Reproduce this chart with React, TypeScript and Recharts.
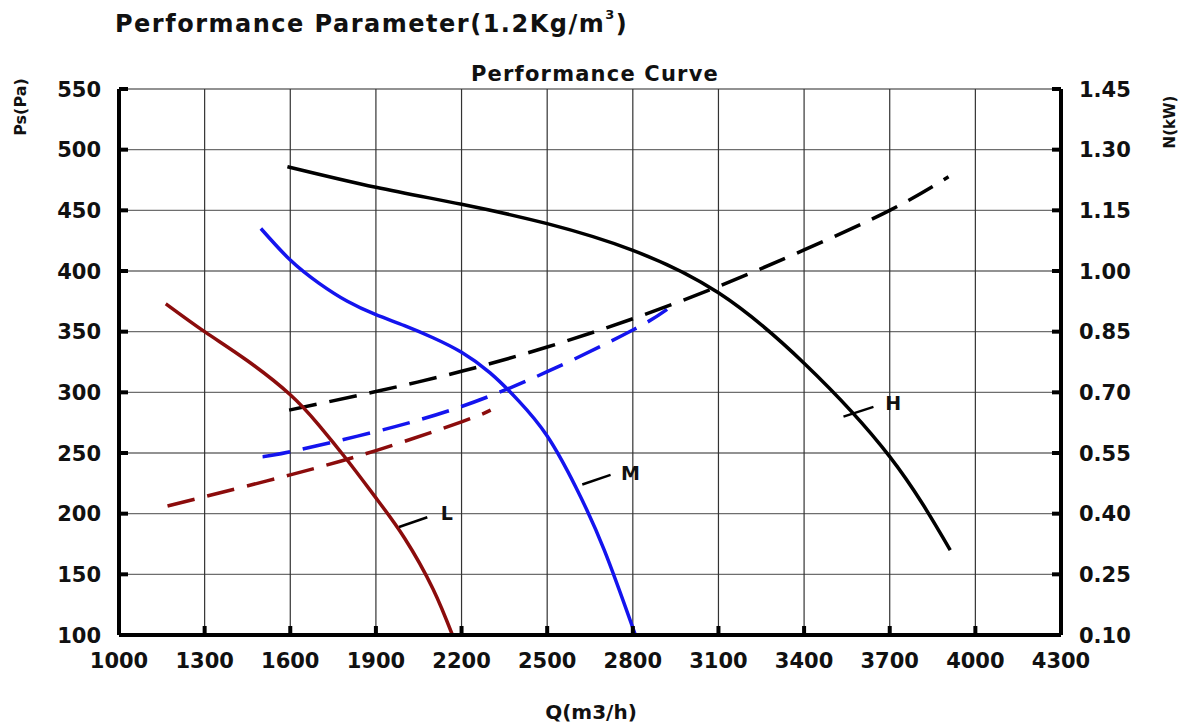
import React from 'react';
import { LineChart, Line, XAxis, YAxis, CartesianGrid, ReferenceLine, ReferenceDot } from 'recharts';

// axis ticks
const qTicks = [1000, 1300, 1600, 1900, 2200, 2500, 2800, 3100, 3400, 3700, 4000, 4300];
const psTicks = [100, 150, 200, 250, 300, 350, 400, 450, 500, 550];
const nTicks = [0.1, 0.25, 0.4, 0.55, 0.7, 0.85, 1.0, 1.15, 1.3, 1.45];

// static pressure curves (Pa)
const hPressure = [
  { q: 1590, ps: 486 }, { q: 1900, ps: 469 }, { q: 2200, ps: 455 }, { q: 2500, ps: 439 },
  { q: 2800, ps: 417 }, { q: 3100, ps: 382 }, { q: 3400, ps: 324 }, { q: 3700, ps: 247 },
  { q: 3912, ps: 170 },
];
const mPressure = [
  { q: 1497, ps: 435 }, { q: 1600, ps: 409 }, { q: 1700, ps: 390 }, { q: 1800, ps: 375 },
  { q: 1900, ps: 364 }, { q: 2000, ps: 355 }, { q: 2100, ps: 345 }, { q: 2200, ps: 333 },
  { q: 2300, ps: 316 }, { q: 2400, ps: 293 }, { q: 2500, ps: 264 }, { q: 2600, ps: 222 },
  { q: 2700, ps: 170 }, { q: 2809, ps: 100 },
];
const lPressure = [
  { q: 1164, ps: 373 }, { q: 1300, ps: 350 }, { q: 1450, ps: 326 }, { q: 1600, ps: 298 },
  { q: 1700, ps: 273 }, { q: 1800, ps: 244 }, { q: 1900, ps: 213 }, { q: 2000, ps: 180 },
  { q: 2100, ps: 138 }, { q: 2168, ps: 100 },
];

// shaft power curves (kW)
const hPower = [
  { q: 1596, n: 0.656 }, { q: 1900, n: 0.702 }, { q: 2200, n: 0.752 }, { q: 2500, n: 0.812 },
  { q: 2800, n: 0.882 }, { q: 3100, n: 0.962 }, { q: 3400, n: 1.052 }, { q: 3700, n: 1.15 },
  { q: 3906, n: 1.233 },
];
const mPower = [
  { q: 1503, n: 0.541 }, { q: 1600, n: 0.553 }, { q: 1900, n: 0.603 }, { q: 2200, n: 0.665 },
  { q: 2500, n: 0.751 }, { q: 2800, n: 0.854 }, { q: 2920, n: 0.905 },
];
const lPower = [
  { q: 1170, n: 0.419 }, { q: 1300, n: 0.442 }, { q: 1600, n: 0.496 }, { q: 1900, n: 0.556 },
  { q: 2200, n: 0.627 }, { q: 2302, n: 0.656 },
];

// speed labels with short leader lines
const curveTags = [
  { name: 'H', from: { q: 3538, ps: 280 }, to: { q: 3643, ps: 288 }, at: { q: 3712, ps: 291 } },
  { name: 'M', from: { q: 2623, ps: 224 }, to: { q: 2722, ps: 232 }, at: { q: 2792, ps: 233 } },
  { name: 'L', from: { q: 1981, ps: 189 }, to: { q: 2080, ps: 197 }, at: { q: 2148, ps: 200 } },
];

const FONT = '"DejaVu Sans", "Liberation Sans", Arial, sans-serif';
const TICK_GAP = 18;
const BLACK = '#000000';
const BLUE = '#1414ee';
const RED = '#8b0c0c';

const tickText = { fontFamily: FONT, fontWeight: 'bold' as const, fontSize: 21, fill: '#111' };

const LeftTick = (props: any) => {
  const { x, y, payload } = props;
  const ax = x + TICK_GAP;
  return (
    <g>
      <line x1={ax} x2={ax + 9} y1={y} y2={y} stroke="#000" strokeWidth={4} />
      <text x={x} y={y} dy="0.36em" textAnchor="end" {...tickText}>{payload.value}</text>
    </g>
  );
};

const RightTick = (props: any) => {
  const { x, y, payload } = props;
  const ax = x - TICK_GAP;
  return (
    <g>
      <line x1={ax} x2={ax - 9} y1={y} y2={y} stroke="#000" strokeWidth={4} />
      <text x={x} y={y} dy="0.36em" textAnchor="start" {...tickText}>{Number(payload.value).toFixed(2)}</text>
    </g>
  );
};

const BottomTick = (props: any) => {
  const { x, y, payload } = props;
  const ay = y - TICK_GAP;
  const edge = payload.value === qTicks[0] || payload.value === qTicks[qTicks.length - 1];
  return (
    <g>
      {!edge && <line x1={x} x2={x} y1={ay} y2={ay - 9} stroke="#000" strokeWidth={4} />}
      <text x={x} y={y} dy="0.72em" textAnchor="middle" {...tickText}>{payload.value}</text>
    </g>
  );
};

const textBase: React.CSSProperties = {
  position: 'absolute',
  fontFamily: FONT,
  fontWeight: 'bold',
  color: '#111',
  whiteSpace: 'nowrap',
  lineHeight: 1,
};

export default function App() {
  return (
    <div style={{ position: 'absolute', left: 0, top: 0, width: 1195, height: 724, background: '#fff' }}>
      <LineChart width={1195} height={724} margin={{ top: 89, right: 0, bottom: 0, left: 0 }}>
        <CartesianGrid yAxisId="ps" vertical={false} stroke="#6e6e6e" strokeWidth={1.3} />
        <CartesianGrid yAxisId="ps" horizontal={false} stroke="#333" strokeWidth={1.2} />
        <XAxis
          dataKey="q"
          type="number"
          domain={[1000, 4300]}
          ticks={qTicks}
          allowDataOverflow
          height={89}
          tickSize={0}
          tickMargin={TICK_GAP}
          tick={<BottomTick />}
          axisLine={{ stroke: '#000', strokeWidth: 4 }}
          interval={0}
        />
        <YAxis
          yAxisId="ps"
          orientation="left"
          type="number"
          domain={[100, 550]}
          ticks={psTicks}
          allowDataOverflow
          width={119}
          tickSize={0}
          tickMargin={TICK_GAP}
          tick={<LeftTick />}
          axisLine={{ stroke: '#000', strokeWidth: 4 }}
          interval={0}
        />
        <YAxis
          yAxisId="n"
          orientation="right"
          type="number"
          domain={[0.1, 1.45]}
          ticks={nTicks}
          allowDataOverflow
          width={134}
          tickSize={0}
          tickMargin={TICK_GAP}
          tick={<RightTick />}
          axisLine={{ stroke: '#000', strokeWidth: 4 }}
          interval={0}
        />

        <Line yAxisId="n" data={lPower} dataKey="n" type="natural" stroke={RED} strokeWidth={3.5} strokeDasharray="28 13" dot={false} isAnimationActive={false} />
        <Line yAxisId="n" data={mPower} dataKey="n" type="natural" stroke={BLUE} strokeWidth={3.5} strokeDasharray="28 13" dot={false} isAnimationActive={false} />
        <Line yAxisId="n" data={hPower} dataKey="n" type="natural" stroke={BLACK} strokeWidth={3.5} strokeDasharray="28 13" dot={false} isAnimationActive={false} />

        <Line yAxisId="ps" data={lPressure} dataKey="ps" type="natural" stroke={RED} strokeWidth={3.5} dot={false} isAnimationActive={false} />
        <Line yAxisId="ps" data={mPressure} dataKey="ps" type="natural" stroke={BLUE} strokeWidth={3.5} dot={false} isAnimationActive={false} />
        <Line yAxisId="ps" data={hPressure} dataKey="ps" type="natural" stroke={BLACK} strokeWidth={3.5} dot={false} isAnimationActive={false} />

        {curveTags.map((t) => (
          <ReferenceLine
            key={`lead-${t.name}`}
            yAxisId="ps"
            segment={[{ x: t.from.q, y: t.from.ps }, { x: t.to.q, y: t.to.ps }]}
            stroke="#000"
            strokeWidth={2.5}
            ifOverflow="visible"
          />
        ))}
        {curveTags.map((t) => (
          <ReferenceDot
            key={`tag-${t.name}`}
            yAxisId="ps"
            x={t.at.q}
            y={t.at.ps}
            r={1}
            fill="none"
            stroke="none"
            ifOverflow="visible"
            label={{ value: t.name, position: 'center', fill: '#111', fontSize: 19, fontWeight: 'bold', fontFamily: FONT }}
          />
        ))}
      </LineChart>

      <div style={{ ...textBase, left: 115, top: 12, fontSize: 24, letterSpacing: 1.5 }}>
        Performance Parameter(1.2Kg/m<sup style={{ fontSize: 13, verticalAlign: 'top', position: 'relative', top: -4 }}>3</sup>)
      </div>
      <div style={{ ...textBase, left: 595, top: 64, fontSize: 21, letterSpacing: 1.2, transform: 'translateX(-50%)' }}>
        Performance Curve
      </div>
      <div style={{ ...textBase, left: 21, top: 107, fontSize: 16, transform: 'translate(-50%, -50%) rotate(-90deg)' }}>
        Ps(Pa)
      </div>
      <div style={{ ...textBase, left: 1170, top: 122, fontSize: 15, transform: 'translate(-50%, -50%) rotate(-90deg)' }}>
        N(kW)
      </div>
      <div style={{ ...textBase, left: 591, top: 712, fontSize: 20, transform: 'translate(-50%, -50%)' }}>
        Q(m3/h)
      </div>
    </div>
  );
}
